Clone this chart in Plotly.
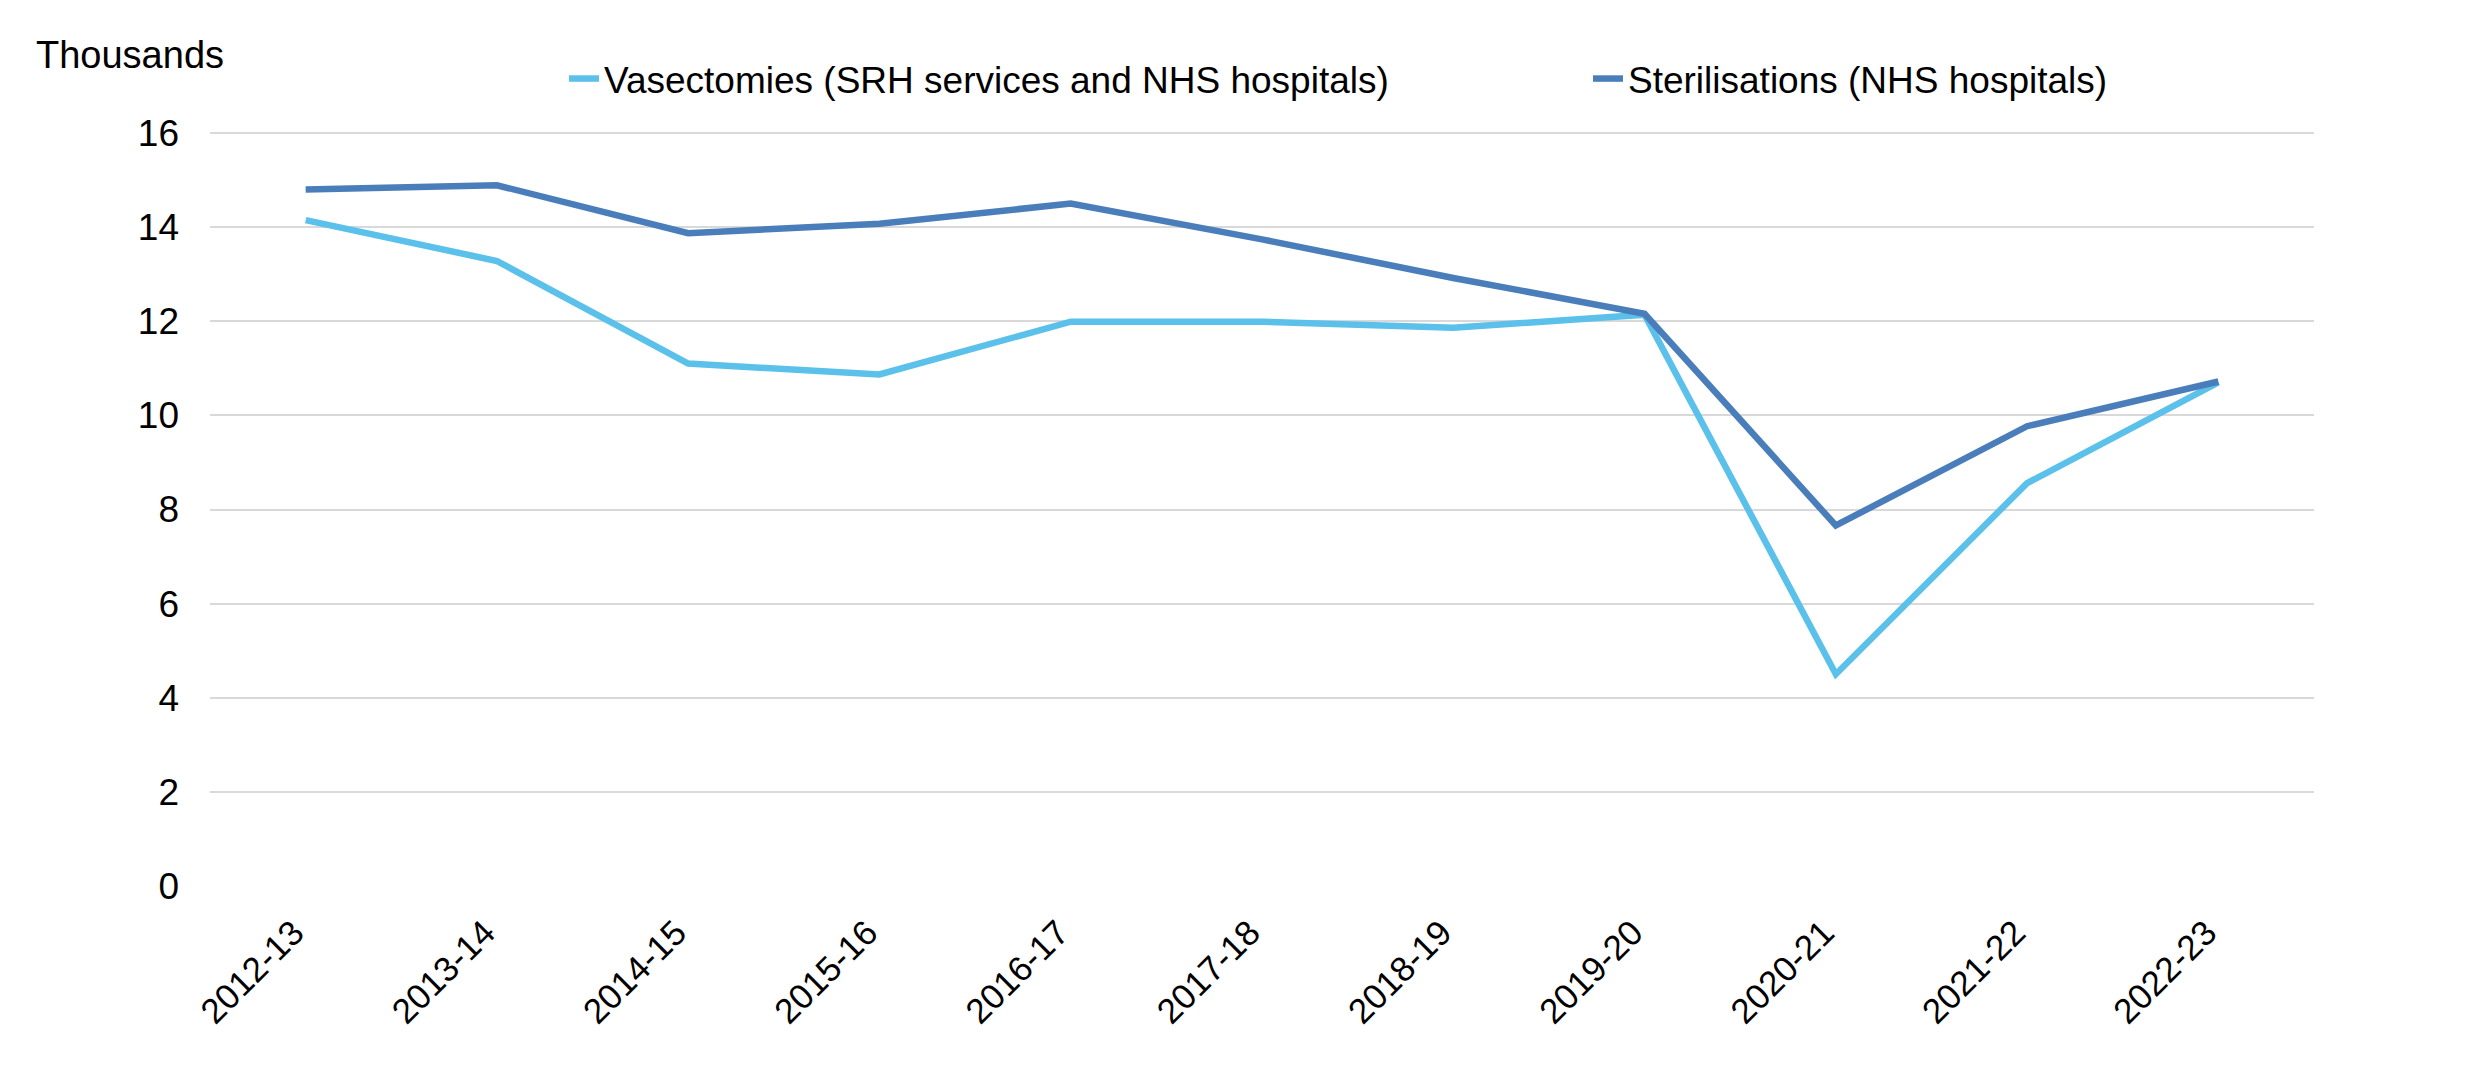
import plotly.graph_objects as go

years = ["2012-13", "2013-14", "2014-15", "2015-16", "2016-17", "2017-18",
         "2018-19", "2019-20", "2020-21", "2021-22", "2022-23"]
vasectomies = [14.15, 13.28, 11.10, 10.87, 11.99, 11.99, 11.86, 12.14, 4.50, 8.56, 10.70]
sterilisations = [14.80, 14.89, 13.87, 14.07, 14.50, 13.74, 12.92, 12.16, 7.66, 9.77, 10.72]
y_ticks = [0, 2, 4, 6, 8, 10, 12, 14, 16]

LIGHT = "#5BC1EA"
DARK = "#4A7EBB"
FONT = "Liberation Sans, Arial, sans-serif"
W, H = 2490, 1083
L, R, T, B = 210, 176, 128, 197
YTOP = 16 + 5 / ((H - B - 133) / 16)

fig = go.Figure()
fig.add_trace(go.Scatter(
    x=years, y=vasectomies, mode="lines", name="Vasectomies (SRH services and NHS hospitals)",
    line=dict(color=LIGHT, width=6.5), legend="legend", showlegend=True))
fig.add_trace(go.Scatter(
    x=years, y=sterilisations, mode="lines", name="Sterilisations (NHS hospitals)",
    line=dict(color=DARK, width=6.5), legend="legend2", showlegend=True))

fig.update_layout(
    width=W, height=H, showlegend=True,
    margin=dict(l=L, r=R, t=T, b=B, autoexpand=False),
    paper_bgcolor="white", plot_bgcolor="white",
    font=dict(family=FONT, size=38, color="black"),
    legend=dict(orientation="h", xref="container", yref="container",
                x=(572 - 8) / W, y=1 - 79 / H, xanchor="left", yanchor="middle",
                bgcolor="rgba(0,0,0,0)", font=dict(size=37), itemwidth=30),
    legend2=dict(orientation="h", xref="container", yref="container",
                 x=(1596 - 8) / W, y=1 - 79 / H, xanchor="left", yanchor="middle",
                 bgcolor="rgba(0,0,0,0)", font=dict(size=37), itemwidth=30),
    annotations=[dict(text="Thousands", xref="paper", yref="paper",
                      x=-(L - 34) / (W - L - R), y=1 + (T - 55) / (H - T - B),
                      xanchor="left", yanchor="middle", showarrow=False,
                      font=dict(size=38))],
)
fig.update_xaxes(
    type="category", range=[-0.5, 10.5], showgrid=False, zeroline=False,
    showline=False, tickangle=-45, ticks="", ticklabelstandoff=18,
    ticklabelshift=-12, automargin=False, tickfont=dict(size=35))
fig.update_yaxes(
    range=[0, YTOP], tickvals=y_ticks, showgrid=True, gridcolor="#D9D9D9",
    gridwidth=2, zeroline=False, showline=False, ticks="",
    automargin=False, ticklabelstandoff=30, tickfont=dict(size=37))

fig.write_html("out.html")
